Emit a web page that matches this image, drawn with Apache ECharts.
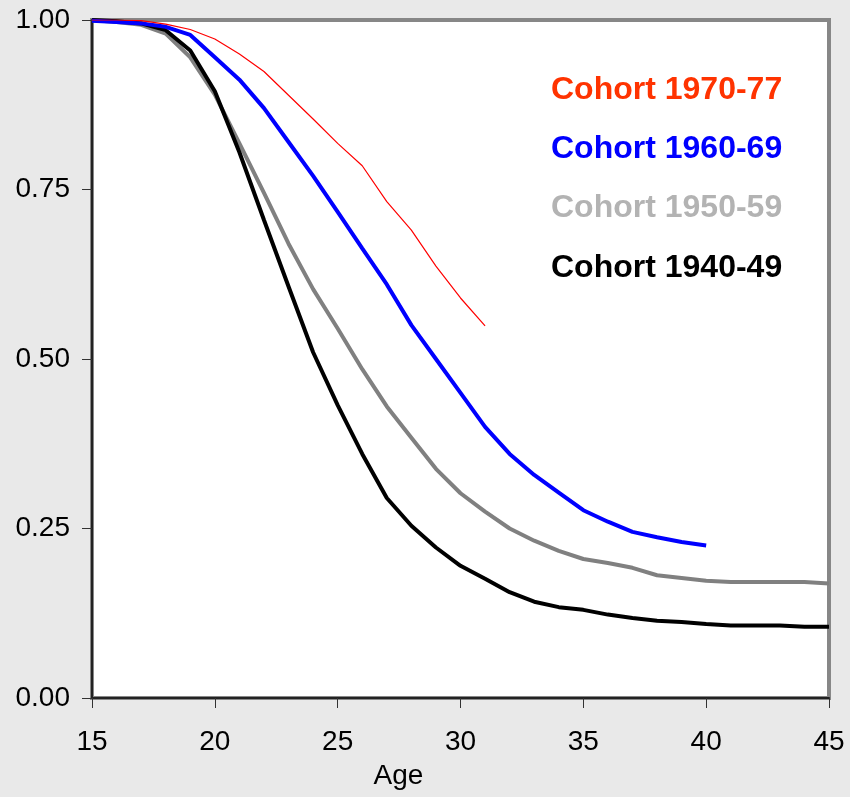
<!DOCTYPE html>
<html>
<head>
<meta charset="utf-8">
<script src="https://cdn.jsdelivr.net/npm/echarts@6/dist/echarts.min.js"></script>
<style>
html,body{margin:0;padding:0;background:#e9e9e9;}
#chart{width:850px;height:797px;}
</style>
</head>
<body>
<div id="chart"></div>
<script>
var ages = [15,16,17,18,19,20,21,22,23,24,25,26,27,28,29,30,31,32,33,34,35,36,37,38,39,40,41,42,43,44,45];
var yTicks = [0, 0.25, 0.5, 0.75, 1.0];
var seriesNames = ['Cohort 1970-77','Cohort 1960-69','Cohort 1950-59','Cohort 1940-49'];
var cohort1970 = [1.0,1.0,0.999,0.994,0.986,0.972,0.95,0.924,0.889,0.854,0.818,0.785,0.732,0.69,0.637,0.59,0.549];
var cohort1960 = [0.999,0.997,0.995,0.99,0.978,0.945,0.912,0.87,0.82,0.77,0.717,0.663,0.61,0.55,0.5,0.45,0.4,0.36,0.329,0.303,0.277,0.26,0.245,0.237,0.23,0.225];
var cohort1950 = [1.0,0.997,0.993,0.98,0.945,0.89,0.818,0.745,0.67,0.603,0.545,0.485,0.43,0.384,0.338,0.302,0.275,0.25,0.232,0.217,0.205,0.199,0.192,0.181,0.177,0.173,0.171,0.171,0.171,0.171,0.169];
var cohort1940 = [1.0,0.998,0.995,0.985,0.955,0.895,0.805,0.705,0.607,0.51,0.432,0.36,0.295,0.254,0.222,0.195,0.176,0.156,0.142,0.134,0.13,0.123,0.118,0.114,0.112,0.109,0.107,0.107,0.107,0.105,0.105];

var lineColors = ['#ff0000','#0000ff','#808080','#000000'];
var labelColors = ['#ff3300','#0000ff','#b3b3b3','#000000'];
var lineWidths = [1.2,4,4,4];
var allValues = [cohort1970, cohort1960, cohort1950, cohort1940];

function pairs(vals){ return vals.map(function(v,i){ return [ages[i], v]; }); }

var chart = echarts.init(document.getElementById('chart'));
var font = '"Liberation Sans", Arial, sans-serif';
var series = [];
var order = [2,3,1,0];
order.forEach(function(k){
  series.push({
    name: seriesNames[k], type:'line', data: pairs(allValues[k]),
    showSymbol:false, symbol:'none', smooth:false,
    lineStyle:{color:lineColors[k], width:lineWidths[k]},
    z: 3 + order.indexOf(k), silent:true, animation:false
  });
});
var labelY = [87,146,205,265];
var graphics = seriesNames.map(function(n,k){
  return {type:'text', left:551, top:labelY[k]-13, z:100,
    style:{text:n, fill:labelColors[k], font:'bold 32px ' + font}};
});

chart.setOption({
  animation:false,
  backgroundColor:'#e9e9e9',
  grid:{left:92,right:21,top:20,bottom:99,show:true,backgroundColor:'#ffffff',borderColor:'#878787',borderWidth:4},
  xAxis:{type:'value',min:15,max:45,interval:5,
    name:'Age',nameLocation:'middle',nameGap:64,
    nameTextStyle:{fontFamily:font,fontSize:28,color:'#000',padding:[0,124,0,0]},
    axisLine:{show:true,onZero:false,lineStyle:{color:'#222',width:2}},
    axisTick:{show:true,length:10,lineStyle:{color:'#333',width:1}},
    axisLabel:{fontFamily:font,fontSize:28,color:'#000',margin:30},
    splitLine:{show:false}},
  yAxis:{type:'value',min:0,max:1,interval:0.25,
    axisLine:{show:true,lineStyle:{color:'#222',width:2}},
    axisTick:{show:true,length:10,lineStyle:{color:'#333',width:1}},
    axisLabel:{fontFamily:font,fontSize:28,color:'#000',margin:22,
      formatter:function(v){ return v.toFixed(2); }},
    splitLine:{show:false}},
  graphic: graphics,
  series: series
});
</script>
</body>
</html>
